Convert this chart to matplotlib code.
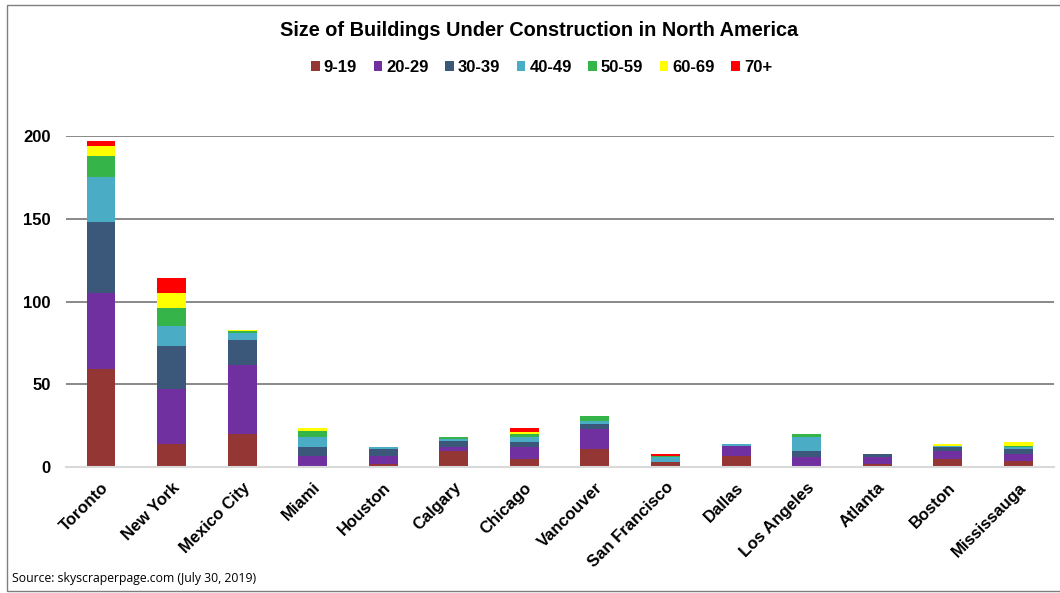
import matplotlib.pyplot as plt
import numpy as np
from matplotlib.patches import Rectangle

cities = ["Toronto", "New York", "Mexico City", "Miami", "Houston", "Calgary",
          "Chicago", "Vancouver", "San Francisco", "Dallas", "Los Angeles",
          "Atlanta", "Boston", "Mississauga"]

floors = ["9-19", "20-29", "30-39", "40-49", "50-59", "60-69", "70+"]

f9_19 = [59, 14, 20, 1, 2, 10, 5, 11, 3, 7, 1, 2, 5, 4]
f20_29 = [46, 33, 42, 6, 5, 2, 7, 12, 0, 6, 5, 4, 5, 4]
f30_39 = [43, 26, 15, 5, 4, 4, 3, 3, 0, 0, 4, 2, 2, 3]
f40_49 = [27, 12, 4, 6, 1, 1, 3, 2, 3, 1, 8, 0, 1, 1]
f50_59 = [13, 11, 1, 4, 0, 1, 2, 3, 1, 0, 2, 0, 0, 1]
f60_69 = [6, 9, 1, 2, 0, 0, 1, 0, 0, 0, 0, 0, 1, 2]
f70 = [3, 9, 0, 0, 0, 0, 3, 0, 1, 0, 0, 0, 0, 0]

series = [f9_19, f20_29, f30_39, f40_49, f50_59, f60_69, f70]
colors = ["#943634", "#7030A0", "#3B5779", "#4BACC6", "#35B44A", "#FFFF00", "#FF0000"]

plt.rcParams['font.family'] = ['Liberation Sans', 'DejaVu Sans']

fig = plt.figure(figsize=(10.6, 5.93), dpi=100)
ax = fig.add_axes([0.062, 0.212, 0.932, 0.559])

x = np.arange(len(cities))
bottom = np.zeros(len(cities))
for name, vals, c in zip(floors, series, colors):
    ax.bar(x, vals, width=0.41, bottom=bottom, color=c, label=name, zorder=3)
    bottom += np.array(vals)

ax.set_xlim(-0.5, len(cities) - 0.5)
ax.set_ylim(0, 200)
ax.set_yticks([0, 50, 100, 150, 200])
ax.yaxis.grid(True, color="#808080", linewidth=1.3, zorder=0)
ax.set_axisbelow(True)
for s in ["top", "right", "left"]:
    ax.spines[s].set_visible(False)
ax.spines["bottom"].set_color("#d9d9d9")
ax.spines["bottom"].set_linewidth(1.5)
ax.spines["bottom"].set_zorder(4)
ax.tick_params(length=0)
ax.tick_params(axis="y", pad=11)
ax.tick_params(axis="x", pad=9)

ax.set_xticks(x)
ax.set_xticklabels(cities, rotation=45, ha="right", rotation_mode="anchor",
                   fontsize=12, fontweight="bold")
for lbl in ax.get_yticklabels():
    lbl.set_fontsize(12)
    lbl.set_fontweight("bold")

fig.text(0.509, 0.948, "Size of Buildings Under Construction in North America",
         ha="center", va="center", fontsize=14.3, fontweight="bold")

fig.legend(loc="center", bbox_to_anchor=(0.511, 0.886), ncol=7, frameon=False,
           handlelength=0.5, handleheight=0.5, handletextpad=0.25,
           columnspacing=1.0, prop={"size": 12, "weight": "bold"})

fig.text(0.011, 0.025, "Source: skyscraperpage.com (July 30, 2019)",
         fontsize=8.8, family="Open Sans", ha="left", va="center")

fig.patches.append(Rectangle((0.007, 0.004), 1.2, 0.988, transform=fig.transFigure,
                             fill=False, edgecolor="#7f7f7f", linewidth=1))

fig.savefig("out.png", dpi=100)
